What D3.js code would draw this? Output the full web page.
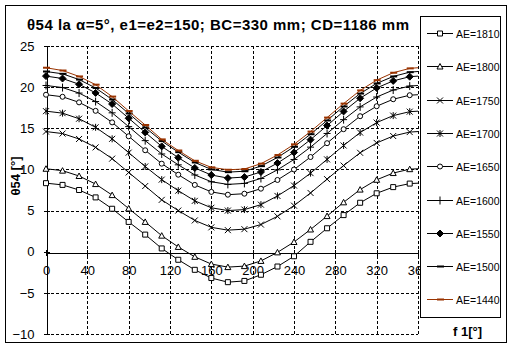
<!DOCTYPE html>
<html>
<head>
<meta charset="utf-8">
<script src="https://cdnjs.cloudflare.com/ajax/libs/d3/7.8.5/d3.min.js"></script>
<style>
  body { margin: 0; background: #fff; }
  svg { display: block; font-family: Arial, "Liberation Sans", sans-serif; }
</style>
</head>
<body>
<svg id="chart" width="512" height="351"></svg>
<script>
// angle f1 in degrees
const angles = [0, 16, 32, 48, 64, 80, 96, 112, 128, 144, 160, 176, 192, 208, 224, 240, 256, 272, 288, 304, 320, 336, 352, 360]

// theta54 for each AE
const ae1810 = [8.33, 8.12, 7.5, 6.6, 5.22, 3.62, 2.08, 0.4, -0.98, -2.2, -3.2, -3.7, -3.55, -2.8, -1.8, -0.55, 1.2, 2.85, 4.45, 5.95, 7.1, 7.85, 8.28, 8.33]
const ae1800 = [10.08, 9.85, 9.2, 8.22, 6.88, 5.25, 3.62, 1.95, 0.58, -0.62, -1.5, -1.87, -1.75, -1.12, -0.08, 1.18, 2.7, 4.33, 6.0, 7.55, 8.74, 9.56, 10.03, 10.08]
const ae1750 = [14.6, 14.36, 13.7, 12.68, 11.31, 9.63, 7.98, 6.3, 5.0, 3.8, 2.96, 2.62, 2.74, 3.3, 4.3, 5.6, 7.14, 8.82, 10.47, 12.02, 13.22, 14.06, 14.54, 14.6]
const ae1700 = [17.08, 16.84, 16.16, 15.12, 13.72, 12.04, 10.36, 8.76, 7.42, 6.18, 5.34, 5.0, 5.12, 5.72, 6.78, 8.04, 9.55, 11.22, 12.91, 14.48, 15.69, 16.54, 17.02, 17.08]
const ae1650 = [19.08, 18.83, 18.15, 17.12, 15.72, 14.03, 12.33, 10.7, 9.36, 8.12, 7.27, 6.93, 7.05, 7.66, 8.72, 9.99, 11.51, 13.19, 14.89, 16.47, 17.68, 18.53, 19.02, 19.08]
const ae1600 = [20.2, 19.95, 19.28, 18.25, 16.88, 15.2, 13.5, 11.88, 10.56, 9.33, 8.5, 8.18, 8.3, 8.9, 9.95, 11.21, 12.71, 14.37, 16.05, 17.6, 18.8, 19.65, 20.13, 20.2]
const ae1550 = [21.34, 21.05, 20.35, 19.3, 17.95, 16.22, 14.5, 12.8, 11.43, 10.18, 9.32, 8.95, 9.07, 9.69, 10.77, 12.07, 13.62, 15.33, 17.05, 18.65, 19.9, 20.76, 21.27, 21.34]
const ae1500 = [21.9, 21.62, 20.92, 19.9, 18.5, 16.8, 15.1, 13.45, 12.1, 10.85, 10.0, 9.67, 9.78, 10.4, 11.45, 12.75, 14.28, 15.95, 17.65, 19.22, 20.45, 21.3, 21.82, 21.9]
const ae1440 = [22.36, 22.02, 21.3, 20.3, 18.85, 17.1, 15.4, 13.65, 12.3, 11.05, 10.25, 9.96, 10.05, 10.7, 11.75, 13.05, 14.6, 16.3, 18.0, 19.6, 20.85, 21.75, 22.28, 22.36]

const seriesNames = ['AE=1810', 'AE=1800', 'AE=1750', 'AE=1700', 'AE=1650', 'AE=1600', 'AE=1550', 'AE=1500', 'AE=1440']
const seriesValues = [ae1810, ae1800, ae1750, ae1700, ae1650, ae1600, ae1550, ae1500, ae1440]
const seriesMarkers = ['square', 'triangle', 'cross', 'star', 'circle', 'plus', 'diamond', 'dash', 'dash']
const seriesColors = ['#000', '#000', '#000', '#000', '#000', '#000', '#000', '#000', '#993300']

const xTicks = [0, 40, 80, 120, 160, 200, 240, 280, 320, 360]
const yTicks = [-10, -5, 0, 5, 10, 15, 20, 25]

const titleText = 'θ54 la α=5°, e1=e2=150; BC=330 mm; CD=1186 mm'

const svg = d3.select('#chart')

const plot = { left: 46, right: 418, top: 46, bottom: 334 }

const x = d3.scaleLinear().domain([0, 360]).range([plot.left, plot.right])
const y = d3.scaleLinear().domain([-10, 25]).range([plot.bottom, plot.top])

// outer frame
svg.append('rect')
    .attr('x', 5.5).attr('y', 5.5)
    .attr('width', 501).attr('height', 337)
    .attr('fill', '#fff')
    .attr('stroke', '#000')

// grid
const grid = svg.append('g')
    .attr('stroke', '#000')
    .attr('stroke-dasharray', '3,2')
    .attr('shape-rendering', 'crispEdges')

grid.selectAll('.hgrid')
    .data(yTicks.filter(d => d !== 0))
    .join('line')
        .attr('class', 'hgrid')
        .attr('x1', plot.left).attr('x2', plot.right)
        .attr('y1', d => Math.round(y(d)) + 0.5)
        .attr('y2', d => Math.round(y(d)) + 0.5)

grid.selectAll('.vgrid')
    .data(xTicks.filter(d => d !== 0))
    .join('line')
        .attr('class', 'vgrid')
        .attr('y1', plot.top).attr('y2', plot.bottom)
        .attr('x1', d => Math.round(x(d)) + 0.5)
        .attr('x2', d => Math.round(x(d)) + 0.5)

// axes
const yAxis = d3.axisLeft(y).tickValues(yTicks).tickSizeInner(3).tickSizeOuter(0).tickPadding(9)
const xAxis = d3.axisBottom(x).tickValues(xTicks).tickSizeInner(3).tickSizeOuter(0).tickPadding(10)

const yAxisGroup = svg.append('g')
    .attr('transform', `translate(${plot.left + 0.5}, 0)`)
    .call(yAxis)

const xAxisGroup = svg.append('g')
    .attr('transform', `translate(0, ${Math.round(y(0)) + 0.5})`)
    .call(xAxis)

yAxisGroup.selectAll('.tick line').attr('x1', 3)
xAxisGroup.selectAll('.tick line').attr('y1', -3)

svg.selectAll('.domain, .tick line').attr('stroke', '#000').attr('shape-rendering', 'crispEdges')
svg.selectAll('.tick text')
    .attr('fill', '#000')
    .attr('font-size', 13)
    .attr('font-family', 'Arial, "Liberation Sans", sans-serif')

// markers
function drawMarker(sel, type, color) {
    if (type === 'circle') {
        sel.append('circle').attr('r', 2.5).attr('fill', '#fff').attr('stroke', color)
        return
    }
    if (type === 'dash') {
        sel.append('rect').attr('x', -3).attr('y', -1).attr('width', 7).attr('height', 2).attr('fill', color)
        return
    }
    const paths = {
        square: 'M-2.5,-2.5h5v5h-5z',
        triangle: 'M0,-3L3,2.5L-3,2.5Z',
        cross: 'M-3,-3L3,3M-3,3L3,-3',
        star: 'M-3,-3L3,3M-3,3L3,-3M0,-3.5V3.5',
        plus: 'M-3.5,0H3.5M0,-4V4',
        diamond: 'M0,-3.5L3.5,0L0,3.5L-3.5,0Z'
    }
    const filled = type === 'diamond'
    const open = type === 'square' || type === 'triangle'
    sel.append('path')
        .attr('d', paths[type])
        .attr('fill', filled ? color : (open ? '#fff' : 'none'))
        .attr('stroke', color)
}

const line = d3.line()
    .x((d, i) => x(angles[i]))
    .y(d => y(d))

const seriesGroup = svg.append('g')

seriesValues.forEach((vals, k) => {
    const g = seriesGroup.append('g')
    g.append('path')
        .datum(vals)
        .attr('d', line)
        .attr('fill', 'none')
        .attr('stroke', seriesColors[k])
        .attr('stroke-width', 1)

    // no marker on the closing 360 point (hidden by legend)
    g.selectAll('.mk')
        .data(vals.slice(0, vals.length - 1))
        .join('g')
            .attr('class', 'mk')
            .attr('transform', (d, i) => `translate(${x(angles[i])}, ${y(d)})`)
            .each(function () { drawMarker(d3.select(this), seriesMarkers[k], seriesColors[k]) })
})

// legend
const legend = svg.append('g')
legend.append('rect')
    .attr('x', 420.5).attr('y', 16.5)
    .attr('width', 80).attr('height', 301)
    .attr('fill', '#fff')
    .attr('stroke', '#000')

seriesNames.forEach((name, k) => {
    const ly = 33 + k * 33.3
    const item = legend.append('g').attr('transform', `translate(0, ${Math.round(ly) + 0.5})`)
    item.append('line')
        .attr('x1', 427).attr('x2', 453)
        .attr('stroke', seriesColors[k])
    const mk = item.append('g').attr('transform', 'translate(440, 0)')
    drawMarker(mk, seriesMarkers[k], seriesColors[k])
    item.append('text')
        .attr('x', 456).attr('y', 4)
        .attr('font-size', 10.5)
        .text(name)
})

// titles
svg.append('text')
    .attr('x', 27).attr('y', 30)
    .attr('font-size', 15)
    .attr('font-weight', 'bold')
    .attr('textLength', 382)
    .attr('lengthAdjust', 'spacing')
    .text(titleText)

svg.append('text')
    .attr('transform', 'translate(20, 176) rotate(-90)')
    .attr('text-anchor', 'middle')
    .attr('font-size', 13)
    .attr('font-weight', 'bold')
    .text('θ54 [°]')

svg.append('text')
    .attr('x', 453).attr('y', 336)
    .attr('font-size', 13)
    .attr('font-weight', 'bold')
    .text('f 1[°]')
</script>
</body>
</html>
